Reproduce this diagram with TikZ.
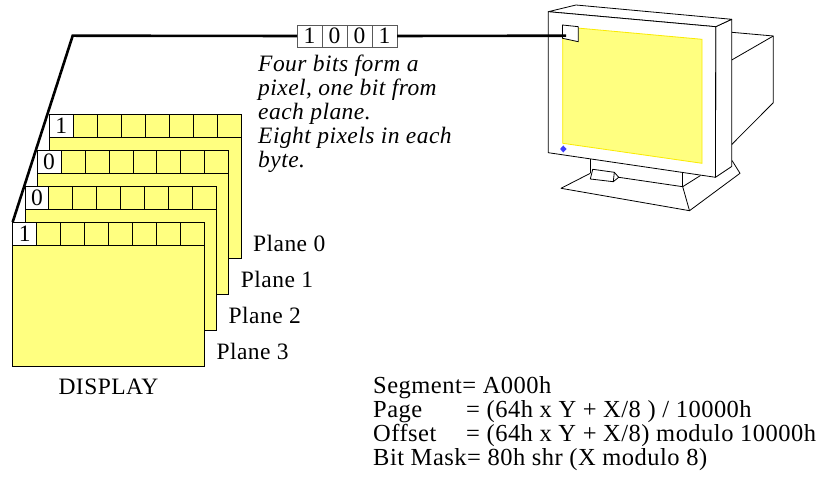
\documentclass[tikz,border=0pt]{standalone}
\usepackage{fontspec}
\setmainfont{Liberation Serif}[LetterSpace=2]
\usetikzlibrary{positioning,calc}

\definecolor{planeyellow}{RGB}{255,255,128}
\definecolor{screenedge}{RGB}{250,235,0}
\definecolor{ledblue}{RGB}{60,60,255}

\newcommand\txtfont{\fontsize{23.5}{24}\selectfont}
\newcommand\eqfont{\fontsize{24.5}{24}\selectfont}

\tikzset{
  plane/.style={draw,fill=planeyellow,line width=0.8pt,outer sep=0pt,inner sep=0pt,
    minimum width=191.6pt,minimum height=144.3pt,anchor=north west},
  cell/.style={draw,fill=planeyellow,line width=0.8pt,outer sep=0pt,inner sep=0pt,
    minimum width=23.95pt,minimum height=23.3pt,anchor=north west},
  bitcell/.style={draw=black!65,line width=0.8pt,outer sep=0pt,inner sep=0pt,
    minimum width=25pt,minimum height=22pt,anchor=north west},
  wire/.style={line width=2.6pt},
  case/.style={draw,fill=white,line width=0.8pt,line join=round}
}

\begin{document}
\begin{tikzpicture}[x=1pt,y=-1pt,font=\txtfont]
\useasboundingbox (0,0) rectangle (832,502);

% Four bit planes, back to front
\foreach \p/\b in {0/1,1/0,2/0,3/1}{
  \node[plane] (plane\p) at (49.3-12.2*\p,114+36*\p) {};
  \node[cell,fill=white] (bit\p) at (plane\p.north west) {\b};
  \foreach \k in {1,...,7}
    \node[cell] at ($(plane\p.north west)+(23.95*\k,0)$) {};
  \node[anchor=west,inner sep=2pt] (plabel\p) at ($(plane\p.south east)+(10,-15)$) {Plane \p};
}
\node[below=9pt of plane3] (display) {DISPLAY};

% Pixel made from one bit of each plane
\foreach \v [count=\i] in {1,0,0,1}
  \node[bitcell] (pix\i) at (297+25*\i-25,25) {\v};

\node[anchor=north west,align=left,inner sep=0pt,font=\txtfont\itshape] (note) at (258,55)
  {Four bits form a\\pixel, one bit from\\each plane.\\Eight pixels in each\\byte.};

% Monitor
\draw[case] (731.7,32.3) -- (773.3,36) -- (773.3,102.7) -- (731.7,144.5);
\draw[line width=0.8pt] (773.3,36) -- (731.7,60);
\draw[case] (590.3,173.3) -- (561,188.3) -- (689.5,210.7) -- (740,173.3) -- (732,160.5);
\draw[line width=0.8pt] (682.7,186.7) -- (689.5,210.7);
\draw[line width=0.8pt] (682.7,186.7) -- (700.5,175.5);
\draw[line width=0.8pt] (590.3,158) -- (590.3,173.3);
\draw[line width=0.8pt] (682.7,172) -- (682.7,186.7);
\draw[line width=0.8pt] (618.7,177.3) -- (682.7,186.7);
\draw[case] (592.7,169.3) -- (614.3,172.3) -- (618.7,177.3) -- (613.3,181.7) -- (590.3,179) -- cycle;
\draw[line width=0.8pt] (614.3,172.3) -- (613.3,181.7);
\draw[case] (715.7,26.7) -- (731.7,19.3) -- (731.7,166.5) -- (715.5,177.3) -- cycle;
\draw[case] (548.3,11.7) -- (576,5) -- (731.7,19.3) -- (715.7,26.7) -- cycle;
\draw[case] (548.3,11.7) -- (715.7,26.7) -- (715.5,177.3) -- (548.3,152.7) -- cycle;
\draw[fill=planeyellow,draw=screenedge,line width=0.8pt] (562.7,26.7) -- (702,39.3) -- (702,163.3) -- (562.7,143.3) -- cycle;
\draw[case] (562.5,25) -- (578.3,26.7) -- (578.3,41.7) -- (562.5,38.3) -- cycle;
\fill[ledblue] (563.3,145.5) -- (566.5,149) -- (563.3,152.5) -- (560.1,149) -- cycle;
\coordinate (pixel) at (566,35.7);

% Wire from the planes to the screen
\coordinate (bend) at (72.7,35.7);
\draw[wire,line join=miter] (plane3.north west) -- (bend) -- (pix1.west);
\draw[wire] (pix4.east) -- (pixel);

% Address formulas
\node[anchor=north west,align=left,inner sep=0pt,font=\eqfont] (formulas) at (373,376)
  {Segment= A000h\\
   \makebox[93pt][l]{Page}= (64h x Y + X/8 ) / 10000h\\
   \makebox[93pt][l]{Offset}= (64h x Y + X/8) modulo 10000h\\
   Bit Mask= 80h shr (X modulo 8)};
\end{tikzpicture}
\end{document}
